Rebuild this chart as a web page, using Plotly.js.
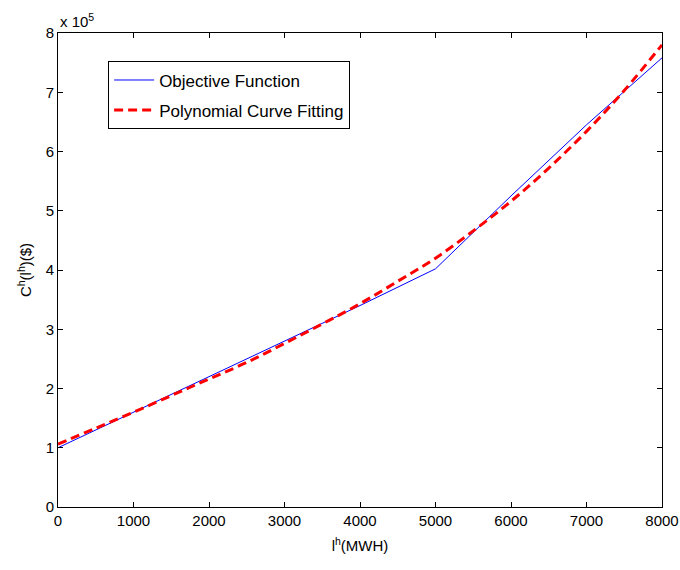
<!DOCTYPE html>
<html>
<head>
<meta charset="utf-8">
<script src="https://cdn.plot.ly/plotly-3.0.1.min.js"></script>
<style>html,body{margin:0;padding:0;background:#fff;}#chart{width:680px;height:570px;}</style>
</head>
<body>
<div id="chart"></div>
<script>
// Load (MWH)
const loadObjective = [0, 1000, 2000, 3000, 4000, 5000, 6000, 7000, 8000];
// Cost in units of 1e5 $
const costObjective = [1.0, 1.6, 2.2, 2.8, 3.4, 4.02, 5.25, 6.45, 7.58];

const loadFit = [0, 500, 1000, 1500, 2000, 2500, 3000, 3500, 4000, 4500, 5000, 5500, 6000, 6500, 7000, 7500, 8000];
const costFit = [1.06, 1.33, 1.60, 1.88, 2.16, 2.44, 2.76, 3.09, 3.43, 3.81, 4.20, 4.66, 5.16, 5.72, 6.34, 7.03, 7.80];

const yTickVals = [0, 1, 2, 3, 4, 5, 6, 7, 8];
const xTickVals = [0, 1000, 2000, 3000, 4000, 5000, 6000, 7000, 8000];

const font = {family: 'Liberation Sans, Arial, sans-serif', size: 15, color: '#000'};
const legendFont = {family: 'Liberation Sans, Arial, sans-serif', size: 17, color: '#000'};

const traces = [
  {x: loadObjective, y: costObjective, mode: 'lines', name: 'Objective Function',
   legendgroup: 'a', line: {color: '#0000ff', width: 1}},
  {x: loadFit, y: costFit, mode: 'lines', name: 'Polynomial Curve Fitting',
   legendgroup: 'b', line: {color: '#ff0000', width: 3, dash: '9px,5px', shape: 'spline'}}
];

const axisCommon = {
  showline: true, linecolor: '#000', linewidth: 1, mirror: 'ticks',
  ticks: 'inside', ticklen: 5, tickcolor: '#000', showgrid: false, zeroline: false,
  tickfont: font
};

const layout = {
  width: 680, height: 570,
  margin: {l: 58, r: 18, t: 33, b: 63},
  paper_bgcolor: '#fff', plot_bgcolor: '#fff',
  font: font,
  showlegend: true,
  legend: {x: 0.083, y: 0.94, xanchor: 'left', yanchor: 'top',
           bordercolor: '#000', borderwidth: 1, bgcolor: '#fff', font: legendFont,
           tracegroupgap: 5, itemwidth: 40},
  xaxis: Object.assign({}, axisCommon, {
    range: [0, 8000], tickvals: xTickVals, ticktext: xTickVals.map(String),
    title: {text: 'l<sup>h</sup>(MWH)', font: font, standoff: 12}
  }),
  yaxis: Object.assign({}, axisCommon, {
    range: [0, 8], tickvals: yTickVals, ticktext: yTickVals.map(String),
    title: {text: 'C<sup>h</sup>(l<sup>h</sup>)($)', font: font, standoff: 10}
  }),
  annotations: [{
    xref: 'paper', yref: 'paper', x: 0, y: 1, xanchor: 'left', yanchor: 'bottom',
    text: 'x 10<sup>5</sup>', showarrow: false, font: font, yshift: 1
  }]
};

Plotly.newPlot('chart', traces, layout, {displayModeBar: false, staticPlot: true});
</script>
</body>
</html>
